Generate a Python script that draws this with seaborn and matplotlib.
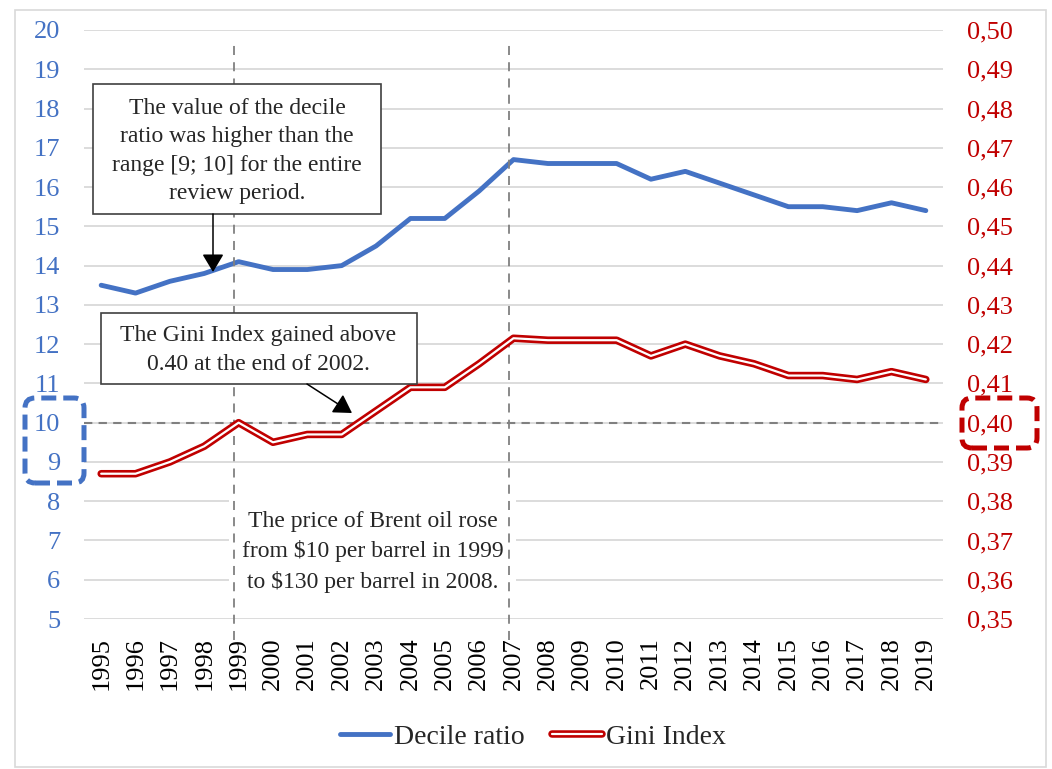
import numpy as np
import pandas as pd
import seaborn as sns
import matplotlib.pyplot as plt
from matplotlib import patheffects
from matplotlib.patches import Rectangle, FancyBboxPatch, FancyArrowPatch
from matplotlib.ticker import MultipleLocator, FuncFormatter

YEARS = list(range(1995, 2020))
DECILE = [13.5, 13.3, 13.6, 13.8, 14.1, 13.9, 13.9, 14.0, 14.5, 15.2, 15.2, 15.9, 16.7,
          16.6, 16.6, 16.6, 16.2, 16.4, 16.1, 15.8, 15.5, 15.5, 15.4, 15.6, 15.4]
GINI = [0.387, 0.387, 0.390, 0.394, 0.400, 0.395, 0.397, 0.397, 0.403, 0.409, 0.409, 0.415, 0.4215,
        0.421, 0.421, 0.421, 0.417, 0.420, 0.417, 0.415, 0.412, 0.412, 0.411, 0.413, 0.411]
MARK_YEARS = [1999, 2007]

BLUE = "#4472C4"
RED = "#C00000"
GRID = "#D9D9D9"
DASH = "#808080"

sns.set_style("white")
plt.rcParams["font.family"] = ["Liberation Serif", "DejaVu Serif"]

df = pd.DataFrame({"year": YEARS, "decile": DECILE, "gini": GINI})

W, H = 1052, 769
fig = plt.figure(figsize=(W / 100, H / 100), dpi=100)
ax = fig.add_axes([84 / W, 1 - 619 / H, (943 - 84) / W, (619 - 30) / H])
ax2 = ax.twinx()


def px(x, y):
    # pixel position (from top-left) -> inches from bottom-left
    return x / 100, (H - y) / 100


# left axis: decile ratio
sns.lineplot(data=df, x="year", y="decile", ax=ax, color=BLUE, lw=3.5,
             label="Decile ratio", legend=False, zorder=2)
ax.set_ylim(5, 20)
ax.set_xlim(YEARS[0] - 0.5, YEARS[-1] + 0.5)
ax.yaxis.set_major_locator(MultipleLocator(1))
ax.set_xticks(YEARS)
ax.set_xticklabels([str(y) for y in YEARS], rotation=90)
ax.set_axisbelow(True)
ax.grid(axis="y", color=GRID, lw=1.3)
ax.grid(axis="x", visible=False)
ax.set_xlabel("")
ax.set_ylabel("")
ax.tick_params(axis="y", colors=BLUE, labelsize=19, length=0, pad=17)
ax.tick_params(axis="x", colors="black", labelsize=19, length=0, pad=13)

# right axis: Gini index (double line)
sns.lineplot(data=df, x="year", y="gini", ax=ax2, color="white", lw=1.6,
             label="Gini Index", legend=False,
             path_effects=[patheffects.Stroke(linewidth=5.4, foreground=RED),
                           patheffects.Normal()])
ax2.set_ylim(0.35, 0.50)
ax2.yaxis.set_major_locator(MultipleLocator(0.01))
ax2.yaxis.set_major_formatter(FuncFormatter(lambda v, p: f"{v:.2f}".replace(".", ",")))
ax2.tick_params(axis="y", colors=RED, labelsize=19, length=0, pad=17)
ax2.set_ylabel("")
ax2.grid(False)

for a in (ax, ax2):
    for s in a.spines.values():
        s.set_visible(False)

# reference lines (hand-placed slightly left of the year in the original)
ax.axhline(10, color=DASH, lw=1.5, ls=(0, (4, 3)), zorder=2.5)
for yr in MARK_YEARS:
    ax.plot([yr - 0.13, yr - 0.13], [4.47, 19.64], color=DASH, lw=1.3, ls=(0, (5, 4)),
            clip_on=False, zorder=3)

ax.text(2002.9, 6.71, "The price of Brent oil rose\nfrom $10 per barrel in 1999\nto $130 per barrel in 2008.",
        ha="center", va="center", fontsize=17, linespacing=1.5, zorder=1.5,
        bbox=dict(boxstyle="square,pad=0.55", fc="white", ec="none"))

tr = fig.dpi_scale_trans

# outer frame
x0, y0 = px(15, 767)
x1, y1 = px(1046, 10)
fig.add_artist(Rectangle((x0, y0), x1 - x0, y1 - y0, transform=tr,
                         fill=False, ec=GRID, lw=1.2, zorder=0))

# annotation boxes
boxes = [
    ((93, 84, 381, 214), (237, 151),
     "The value of the decile\nratio was higher than the\nrange [9; 10] for the entire\nreview period.",
     ((213, 214), (213, 272)), 1.47),
    ((101, 313, 417, 384), (258, 350),
     "The Gini Index gained above\n0.40 at the end of 2002.",
     ((307, 384), (352, 413)), 1.5),
]
for (l, t, r, b), (cx, cy), txt, (p0, p1), lsp in boxes:
    bx, by = px(l, b)
    fig.add_artist(Rectangle((bx, by), (r - l) / 100, (b - t) / 100, transform=tr,
                             fc="white", ec="#404040", lw=1.2, zorder=3))
    fig.text(*px(cx, cy), txt, transform=tr, ha="center", va="center",
             fontsize=17, linespacing=lsp, zorder=4)
    fig.add_artist(FancyArrowPatch(px(*p0), px(*p1), transform=tr,
                                   arrowstyle="-|>,head_length=0.5,head_width=0.3",
                                   mutation_scale=22, color="black", lw=1.1,
                                   shrinkA=0, shrinkB=0, zorder=4))

# dashed highlight boxes around the 10 / 0,40 labels
for (l, t, r, b), col in [((25, 398, 84, 483), BLUE), ((962, 398, 1037, 448), RED)]:
    bx, by = px(l, b)
    fig.add_artist(FancyBboxPatch((bx, by), (r - l) / 100, (b - t) / 100, transform=tr,
                                  boxstyle="round,pad=0,rounding_size=0.1",
                                  fill=False, ec=col, lw=3.6, ls=(0, (3, 1.4)), zorder=5))

# legend
h1 = ax.lines[0]
h2 = ax2.lines[0]
fig.legend([h1, h2], ["Decile ratio", "Gini Index"], loc="center",
           bbox_to_anchor=(533 / W, 1 - 737 / H), ncol=2, frameon=False,
           fontsize=20, handlelength=1.8, handletextpad=0.15, columnspacing=1.0)

fig.savefig("out.png", dpi=100)
